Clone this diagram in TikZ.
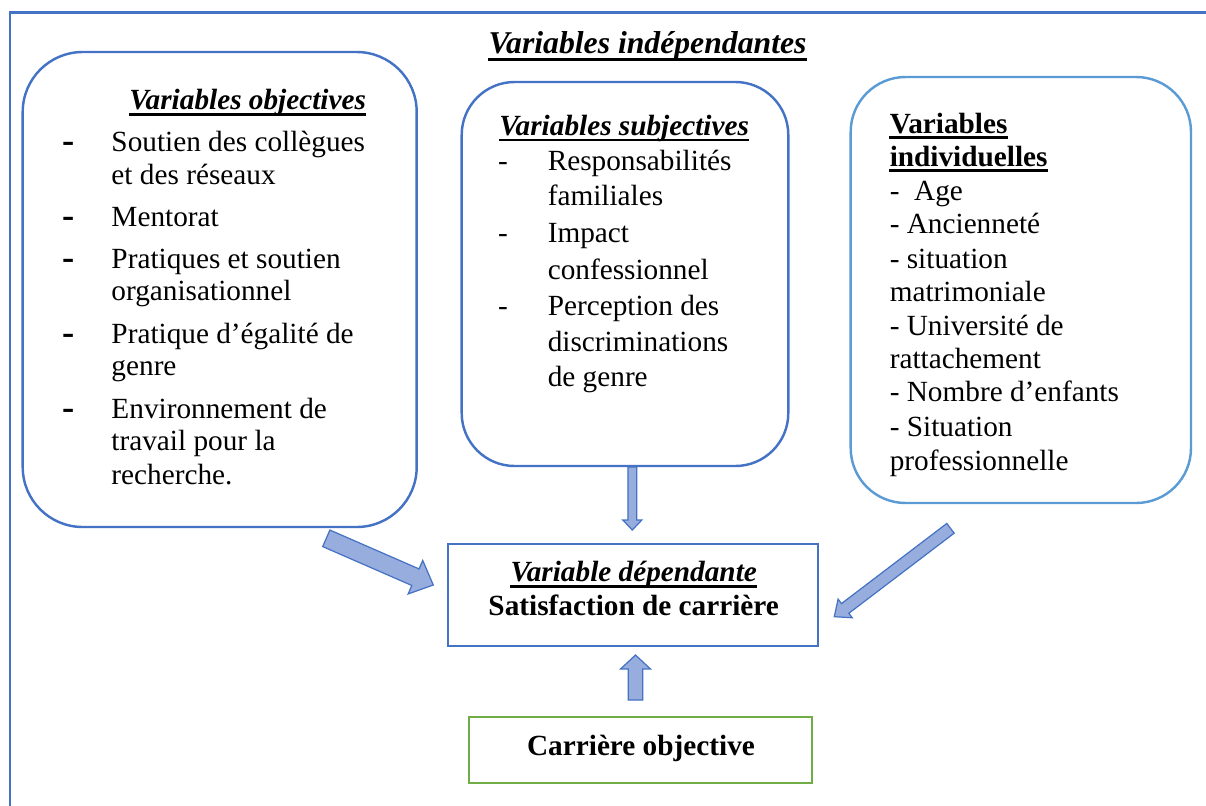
\documentclass[tikz,border=0pt]{standalone}
\usepackage{fontspec}
\setmainfont{Liberation Serif}
\usetikzlibrary{calc,fit}

\definecolor{boxblue}{HTML}{4472C4}
\definecolor{indblue}{HTML}{5B9BD5}
\definecolor{boxgreen}{HTML}{70AD47}
\definecolor{arrowfill}{HTML}{97ADDD}

\tikzset{
  frame/.style={draw=boxblue, line width=1.2pt},
  varbox/.style={draw=boxblue, line width=1pt, rounded corners=#1, inner sep=0pt},
  depbox/.style={draw=boxblue, line width=1pt, inner sep=0pt},
  ligne/.style={anchor=base west, inner sep=0pt, font=\fontsize{12}{14}\selectfont},
  tiret/.style={anchor=base, inner sep=0pt, font=\fontsize{12}{14}\selectfont},
  gros tiret/.style={anchor=base, inner sep=0pt, font=\fontsize{15}{16}\selectfont\bfseries},
  titre/.style={anchor=base, inner sep=0pt, font=\fontsize{12}{14}\selectfont\bfseries\itshape},
  gras/.style={anchor=base, inner sep=0pt, font=\fontsize{12}{14}\selectfont\bfseries},
  souligne/.style={line width=1.2pt},
  fleche/.style={fill=arrowfill, draw=boxblue, line width=0.5pt, line join=miter}
}

% underline below a text node: #1 drop (px), #2 node
\newcommand{\souligner}[2][5]{\draw[souligne] ($(#2.base west)+(0,#1)$) -- ($(#2.base east)+(0,#1)$);}
% block arrow: from, to, half shaft, half head, head length
\newcommand{\blocfleche}[5]{%
  \coordinate (hb) at ($(#2)!#5!(#1)$);
  \draw[fleche] ($(#1)!#3!90:(#2)$) -- ($(hb)!#3!90:(#2)$) -- ($(hb)!#4!90:(#2)$) -- (#2)
    -- ($(hb)!#4!-90:(#2)$) -- ($(hb)!#3!-90:(#2)$) -- ($(#1)!#3!-90:(#2)$) -- cycle;}

\begin{document}
\begin{tikzpicture}[x=0.41pt, y=-0.41pt]
  %%%%% START %%%%%
  \useasboundingbox (0,0) rectangle (1206,806);
  \draw[frame] (10,806) -- (10,12.7) -- (1206,12.7);

  \node[titre, font=\fontsize{13}{15}\selectfont\bfseries\itshape] (vi) at (647.5,53.3) {Variables indépendantes};
  \souligner[6]{vi}

  % boxes
  \node[varbox=24.6pt, fit={(22.7,52) (416.7,527)}] (obj) {};
  \node[varbox=21.7pt, fit={(461.7,82) (788.3,466)}] (subj) {};
  \node[varbox=22.5pt, draw=indblue, fit={(850.7,77) (1191,503)}] (ind) {};
  \node[depbox, fit={(448,544) (818,646)}] (dep) {};
  \node[depbox, draw=boxgreen, fit={(469,717) (812,783)}] (carr) {};

  % variables objectives
  \node[titre] (objt) at (247.7,109.3) {Variables objectives};
  \souligner{objt}
  \foreach \y/\t [count=\i] in {151.7/Soutien des collègues, 184/et des réseaux, 226.7/Mentorat,
      268.3/Pratiques et soutien, 300/organisationnel, 343/Pratique d’égalité de, 375/genre,
      418/Environnement de, 450/travail pour la, 484/recherche.}
    \node[ligne] (obj\i) at (111,\y) {\t};
  \foreach \y [count=\i] in {151.7,226.7,268.3,343,418}
    \node[gros tiret] (objd\i) at (68.3,\y+1) {-};

  % variables subjectives
  \node[titre] (subjt) at (624.2,135) {Variables subjectives};
  \souligner{subjt}
  \foreach \y/\t [count=\i] in {170/Responsabilités, 205/familiales, 242.7/Impact,
      279/confessionnel, 315/Perception des, 351.7/discriminations, 386.7/de genre}
    \node[ligne] (subj\i) at (547.3,\y) {\t};
  \foreach \y [count=\i] in {170,242.7,315}
    \node[tiret] (subjd\i) at (503,\y) {-};

  % variables individuelles
  \node[gras, anchor=base west] (indt1) at (889.3,133.3) {Variables};
  \node[gras, anchor=base west] (indt2) at (889.3,166) {individuelles};
  \souligner[4.5]{indt1}
  \souligner[4.5]{indt2}
  \foreach \y/\t [count=\i] in {200/{-\ \ Age}, 233.3/- Ancienneté, 268.3/- situation,
      301.7/matrimoniale, 335/- Université de, 368.3/rattachement,
      401.7/- Nombre d’enfants, 436.7/- Situation, 470/professionnelle}
    \node[ligne] (ind\i) at (889.3,\y) {\t};

  % dependante
  \node[titre] (dept) at (633.7,581.7) {Variable dépendante};
  \souligner{dept}
  \node[gras] (sat) at (633.7,615) {Satisfaction de carrière};
  \node[gras] (carrt) at (641,755) {Carrière objective};

  % arrows
  \coordinate (fb1) at (632.3,467);   \coordinate (fb2) at (632.3,530);
  \coordinate (fh1) at (635.5,700);   \coordinate (fh2) at (635.5,655);
  \coordinate (fg1) at (326.3,538.3); \coordinate (fg2) at (433.3,585);
  \coordinate (fd1) at (950.5,528.3); \coordinate (fd2) at (834.3,616.7);
  \blocfleche{fb1}{fb2}{1.8pt}{3.9pt}{4.1pt}
  \blocfleche{fh1}{fh2}{3pt}{6.1pt}{5.7pt}
  \blocfleche{fg1}{fg2}{3.7pt}{7.5pt}{8pt}
  \blocfleche{fd1}{fd2}{2.5pt}{4.8pt}{5.6pt}
  %%%%% END %%%%%
\end{tikzpicture}
\end{document}
